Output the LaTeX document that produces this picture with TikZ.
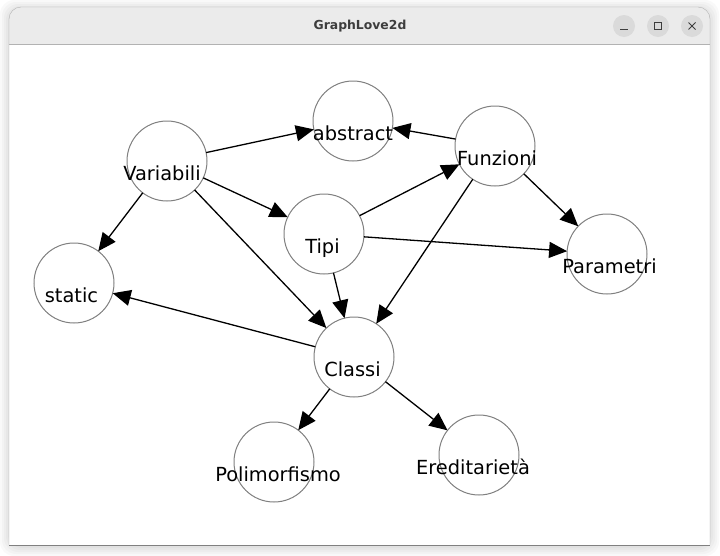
\documentclass[tikz,border=0pt]{standalone}
\usepackage{fontspec}
\setmainfont{DejaVu Sans}
\usetikzlibrary{arrows.meta}

\definecolor{titlebar}{HTML}{EBEBEB}
\definecolor{btnfill}{HTML}{DADADA}
\definecolor{titletext}{HTML}{3D3D3D}

\tikzset{topic/.style={draw=black!50, line width=1pt, circle, minimum size=80pt, inner sep=0pt, outer sep=0pt}}
\tikzset{word/.style={anchor=base, inner sep=0pt, font=\fontsize{19.4}{23}\selectfont}}
\tikzset{link/.style={-{Triangle[length=18pt, width=16pt]}, line width=1.3pt}}
\tikzset{winbtn/.style={circle, fill=btnfill, minimum size=22pt, inner sep=0pt}}

\begin{document}
\begin{tikzpicture}[x=1pt, y=-1pt]
	\useasboundingbox (0,0) rectangle (720,555);

	% window frame and shadow
	\fill[white] (0,0) rectangle (720,555);
	\foreach \s in {9,7,5,3,1}
		\fill[black, opacity=0.025, rounded corners=14pt] (9-\s,7-\s+2) rectangle (710+\s,545+\s+2);
	\fill[titlebar, rounded corners=12pt] (9,7) rectangle (710,60);
	\fill[white] (9,44) rectangle (710,545);
	\draw[black!30] (9,44) -- (710,44);
	\draw[black!30, rounded corners=12pt] (9,545) -- (9,7) -- (710,7) -- (710,545);
	\draw[black!50] (9,545) -- (710,545);

	\node[font=\bfseries\fontsize{12.4}{14}\selectfont, text=titletext] (title) at (360,26) {GraphLove2d};
	\node[winbtn] (minbtn) at (624,26) {};
	\node[winbtn] (maxbtn) at (658,26) {};
	\node[winbtn] (closebtn) at (692,26) {};
	\draw[titletext, line width=1pt] (minbtn.center) ++(-4,3.5) -- ++(8,0);
	\draw[titletext, line width=1pt] (maxbtn.center) ++(-3.5,-3.5) rectangle ++(7,7);
	\draw[titletext, line width=1pt] (closebtn.center) ++(-3.5,-3.5) -- ++(7,7);
	\draw[titletext, line width=1pt] (closebtn.center) ++(3.5,-3.5) -- ++(-7,7);

	% topics
	\node[topic] (abstract) at (353,121) {};
	\node[topic] (variabili) at (167,161) {};
	\node[topic] (funzioni) at (495,146) {};
	\node[topic] (tipi) at (324,234) {};
	\node[topic] (parametri) at (607,254) {};
	\node[topic] (static) at (74,283) {};
	\node[topic] (classi) at (354,357) {};
	\node[topic] (polimorfismo) at (274,462) {};
	\node[topic] (ereditarieta) at (479,455) {};

	\draw[link] (variabili) -- (abstract);
	\draw[link] (funzioni) -- (abstract);
	\draw[link] (variabili) -- (tipi);
	\draw[link] (variabili) -- (static);
	\draw[link] (variabili) -- (classi);
	\draw[link] (tipi) -- (funzioni);
	\draw[link] (tipi) -- (parametri);
	\draw[link] (tipi) -- (classi);
	\draw[link] (funzioni) -- (classi);
	\draw[link] (funzioni) -- (parametri);
	\draw[link] (classi) -- (static);
	\draw[link] (classi) -- (polimorfismo);
	\draw[link] (classi) -- (ereditarieta);

	% labels
	\node[word] (abstract-txt) at (353,140) {abstract};
	\node[word] (variabili-txt) at (162,180) {Variabili};
	\node[word] (funzioni-txt) at (497,165) {Funzioni};
	\node[word] (tipi-txt) at (322.5,253) {Tipi};
	\node[word] (parametri-txt) at (609.5,273) {Parametri};
	\node[word] (static-txt) at (71.5,302) {static};
	\node[word] (classi-txt) at (352.5,376) {Classi};
	\node[word] (polimorfismo-txt) at (278,481) {Polimorfismo};
	\node[word] (ereditarieta-txt) at (473,474) {Ereditarietà};
\end{tikzpicture}
\end{document}
